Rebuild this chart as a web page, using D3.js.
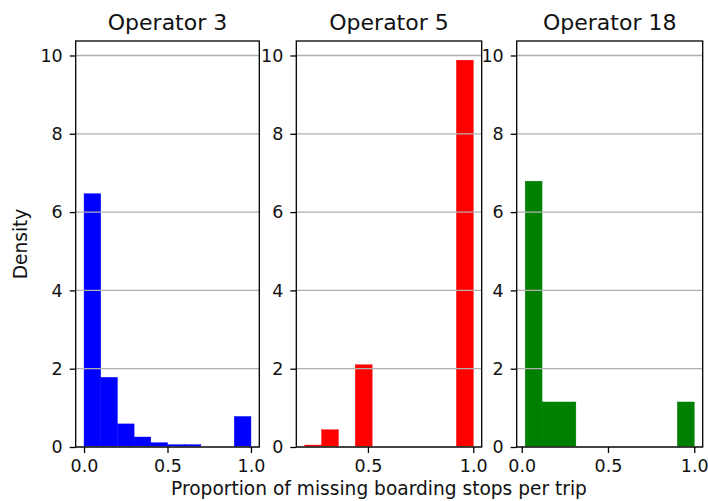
<!DOCTYPE html>
<html>
<head>
<meta charset="utf-8">
<script src="https://cdn.jsdelivr.net/npm/d3@7"></script>
<style>
  html, body { margin: 0; padding: 0; background: #fff; }
  svg { display: block; font-family: "DejaVu Sans", sans-serif; }
</style>
</head>
<body>
<svg id="chart" width="708" height="501"></svg>
<script>
// ---- data ----
const operators = ["Operator 3", "Operator 5", "Operator 18"];
const colors = ["#0000ff", "#ff0000", "#008000"];

const op3Edges = [0.0, 0.1, 0.2, 0.3, 0.4, 0.5, 0.6, 0.7, 0.8, 0.9, 1.0];
const op3Density = [6.47, 1.78, 0.59, 0.255, 0.11, 0.06, 0.06, 0, 0, 0.78];

const op5Edges = [0.2, 0.28, 0.36, 0.44, 0.52, 0.60, 0.68, 0.76, 0.84, 0.92, 1.0];
const op5Density = [0.05, 0.44, 0, 2.10, 0, 0, 0, 0, 0, 9.88];

const op18Edges = [0.02, 0.118, 0.216, 0.314, 0.412, 0.51, 0.608, 0.706, 0.804, 0.902, 1.0];
const op18Density = [6.79, 1.15, 1.15, 0, 0, 0, 0, 0, 0, 1.15];

const xTicks = [[0, 0.5, 1.0], [0.5, 1.0], [0, 0.5, 1.0]];
const yTicks = [0, 2, 4, 6, 8, 10];
const yMax = 10.37;
const xLabel = "Proportion of missing boarding stops per trip";
const yLabel = "Density";

const edgesList = [op3Edges, op5Edges, op18Edges];
const densList = [op3Density, op5Density, op18Density];

// ---- layout ----
const panels = [
  { left: 75.7, right: 259.3 },
  { left: 296.3, right: 481.7 },
  { left: 516.7, right: 702.7 }
];
const plotTop = 41, plotBottom = 447;
const textColor = "#111";

const svg = d3.select("#chart");
const y = d3.scaleLinear().domain([0, yMax]).range([plotBottom, plotTop]);

panels.forEach((p, i) => {
  const edges = edgesList[i];
  const dens = densList[i];
  const lo = edges[0], hi = edges[edges.length - 1];
  const m = 0.05 * (hi - lo);
  const x = d3.scaleLinear().domain([lo - m, hi + m]).range([p.left, p.right]);
  const g = svg.append("g");

  const bins = dens.map((d, k) => ({ x0: edges[k], x1: edges[k + 1], v: d }));
  g.selectAll("rect.bar").data(bins.filter(b => b.v > 0)).enter()
    .append("rect").attr("class", "bar")
    .attr("x", b => x(b.x0))
    .attr("width", b => x(b.x1) - x(b.x0))
    .attr("y", b => y(b.v))
    .attr("height", b => y(0) - y(b.v))
    .attr("fill", colors[i])
    .attr("stroke", colors[i]).attr("stroke-width", 0.4);

  // gridlines (over bars, like matplotlib default)
  g.selectAll("line.grid").data(yTicks).enter()
    .append("line").attr("class", "grid")
    .attr("x1", p.left).attr("x2", p.right)
    .attr("y1", d => y(d)).attr("y2", d => y(d))
    .attr("stroke", "#b0b0b0").attr("stroke-width", 1.3);

  // y axis
  const yAxis = d3.axisLeft(y).tickValues(yTicks).tickFormat(d3.format("d"))
    .tickSize(6).tickPadding(7);
  const ya = g.append("g").attr("transform", `translate(${p.left},0)`).call(yAxis);
  ya.select(".domain").remove();
  ya.selectAll(".tick line").attr("stroke", "#000").attr("stroke-width", 1.3);
  ya.selectAll(".tick text").attr("fill", textColor)
    .style("font-size", "17.5px").style("font-family", "DejaVu Sans");

  // x axis
  const xAxis = d3.axisBottom(x).tickValues(xTicks[i]).tickFormat(d3.format(".1f"))
    .tickSize(6).tickPadding(7);
  const xa = g.append("g").attr("transform", `translate(0,${plotBottom})`).call(xAxis);
  xa.select(".domain").remove();
  xa.selectAll(".tick line").attr("stroke", "#000").attr("stroke-width", 1.3);
  xa.selectAll(".tick text").attr("fill", textColor)
    .style("font-size", "17.5px").style("font-family", "DejaVu Sans");

  // spines
  g.append("rect")
    .attr("x", p.left).attr("y", plotTop)
    .attr("width", p.right - p.left).attr("height", plotBottom - plotTop)
    .attr("fill", "none").attr("stroke", "#000").attr("stroke-width", 1.3);

  // title
  g.append("text")
    .attr("x", (p.left + p.right) / 2).attr("y", 30)
    .attr("text-anchor", "middle")
    .attr("fill", textColor)
    .style("font-size", "22px")
    .text(operators[i]);
});

// axis labels
svg.append("text")
  .attr("x", 379).attr("y", 495)
  .attr("text-anchor", "middle").attr("fill", textColor)
  .style("font-size", "18.6px")
  .text(xLabel);

svg.append("text")
  .attr("transform", `translate(27,${(plotTop + plotBottom) / 2}) rotate(-90)`)
  .attr("text-anchor", "middle").attr("fill", textColor)
  .style("font-size", "18.6px")
  .text(yLabel);
</script>
</body>
</html>
